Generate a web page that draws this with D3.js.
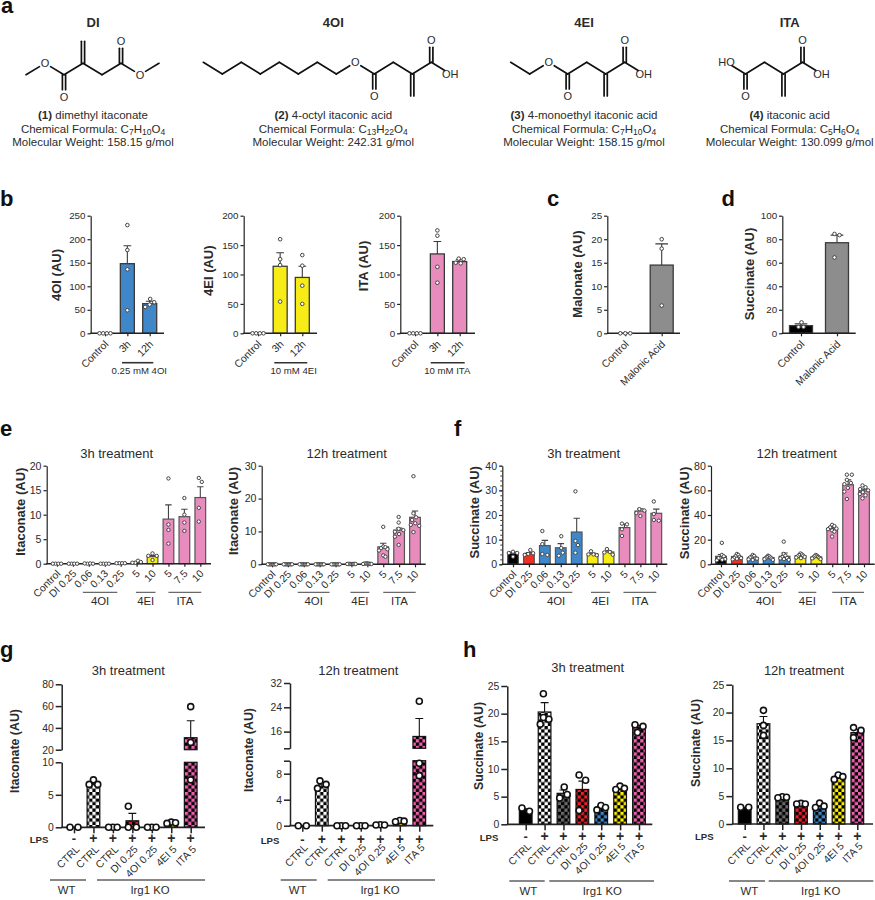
<!DOCTYPE html>
<html>
<head>
<meta charset="utf-8">
<script src="https://cdn.jsdelivr.net/npm/d3@7"></script>
<style>
  html, body { margin: 0; padding: 0; background: #fff; }
  text { font-family: "Liberation Sans", Arial, sans-serif; fill: #2b2b2b; }
</style>
</head>
<body>
<div id="fig"></div>
<script>
// ---- panel a: compounds (backbone atoms, "" is a plain carbon)
const diAtoms = ["", "O", "", "", "", "", "O", ""];
const diDouble = [[2, "O"], [3, ""], [5, "O"]];
const oiAtoms = ["", "", "", "", "", "", "", "", "O", "", "", "", "", "OH"];
const oiDouble = [[9, "O"], [11, ""], [12, "O"]];
const eiAtoms = ["", "", "O", "", "", "", "", "OH"];
const eiDouble = [[3, "O"], [5, ""], [6, "O"]];
const itaAtoms = ["HO", "", "", "", "", "OH"];
const itaDouble = [[1, "O"], [3, ""], [4, "O"]];

// ---- panel b, c, d
const bCats = ["Control", "3h", "12h"];
const b4oiMeans = [0, 148, 63];
const b4oiTops = [0, 186, 68];
const b4oiDots = [[0, 0, 0, 0], [230, 177, 136, 49], [73, 66, 61, 56]];
const b4eiMeans = [0, 114, 95];
const b4eiTops = [0, 137, 114];
const b4eiDots = [[0, 0, 0, 0], [160, 126, 116, 54], [133, 115, 81, 50]];
const bItaMeans = [0, 135, 122];
const bItaTops = [0, 156, 125];
const bItaDots = [[0, 0, 0, 0], [175, 166, 113, 86], [127, 126, 120, 119]];

const cdCats = ["Control", "Malonic Acid"];
const cMeans = [0, 14.5];
const cTops = [0, 19];
const cDots = [[0, 0, 0], [20, 18, 5.9]];
const dMeans = [6.5, 77];
const dTops = [8, 83.5];
const dDots = [[9.3, 5.4, 5.4], [84.5, 83.5, 64.5]];

// ---- panel e, f
const efCats = ["Control", "DI 0.25", "0.06", "0.13", "0.25", "5", "10", "5", "7.5", "10"];
const efKinds = ["ctrl", "di", "oi", "oi", "oi", "ei", "ei", "ita", "ita", "ita"];
const efGroups = ["4OI", "4EI", "ITA"];
const efGroupFrom = [2, 5, 7];
const efGroupTo = [4, 6, 9];

const e3Means = [0, 0, 0, 0, 0.1, 0.35, 1.45, 9.1, 9.6, 13.5];
const e3Tops = [0, 0, 0, 0, 0.1, 0.45, 1.7, 12, 11.1, 15.7];
const e3Dots = [[0, 0, 0, 0], [0, 0, 0, 0], [0, 0.05, 0.05, 0], [0, 0, 0, 0], [0.1, 0.1, 0.1, 0.1],
  [0.6, 0.35, 0.2, 0.2], [2.1, 1.6, 1.6, 0.75], [17.4, 8, 6.9, 4.1], [13.4, 10, 8.4, 6.7], [17.5, 16.7, 11.4, 8.6]];

const e12Means = [0, 0, 0, 0, 0, 0.1, 0.2, 5.3, 10.4, 14.3];
const e12Tops = [0, 0, 0, 0, 0, 0.1, 0.3, 6.4, 11, 16.2];
const e12Dots = [[0, 0, 0, 0, 0, 0, 0, 0], [0, 0, 0, 0, 0, 0, 0, 0], [0, 0, 0, 0, 0, 0, 0, 0], [0, 0, 0, 0, 0, 0, 0, 0], [0, 0, 0, 0, 0, 0, 0, 0],
  [0.1, 0.1, 0.1, 0.1, 0.1, 0.1, 0.1, 0.1], [0.3, 0.2, 0.2, 0.2, 0.2, 0.1, 0.1, 0.1],
  [11.4, 5.4, 5.2, 4.9, 4.6, 4.2, 2.7, 2.3], [14.4, 12.7, 10.8, 10.4, 9.9, 9.2, 8.4, 5.9], [26.8, 15.5, 14.3, 13.5, 12.5, 12, 11.7, 9.8]];

const f3Means = [4.5, 4.3, 7.6, 6.7, 13.1, 4.2, 5, 14.9, 21.6, 20.7];
const f3Tops = [5, 4.8, 9.7, 8.4, 18.7, 4.6, 5.5, 16.3, 22.5, 22.4];
const f3Dots = [[5.1, 4.6, 4.6, 3.1], [5.8, 4.5, 4.2, 3.8], [13.5, 8.2, 4.2, 3.8], [11.4, 6.6, 4.7, 3.5], [29.6, 9.5, 7.8, 4.7],
  [5.3, 4, 4, 3.7], [6.2, 5, 4.8, 3.9], [16.5, 16.2, 14.2, 11.5], [22.4, 21.8, 20.8, 19.6], [25.5, 20.4, 18, 17.7]];

const f12Means = [6.5, 6.3, 5.5, 5.5, 6.5, 7, 6, 29, 64.5, 59.5];
const f12Tops = [8, 7.3, 6.3, 6.3, 9.2, 7.8, 6.8, 30.5, 68.5, 61];
const f12Dots = [[17.4, 7.6, 6.5, 5, 5, 4.2, 3.7, 3.2], [8.4, 7.6, 6.5, 6, 5.2, 5, 4.5, 4], [7.6, 6.8, 6, 5.5, 5, 4.6, 4, 3.5], [7, 6.5, 6, 5.5, 5, 4.6, 4.2, 3.6], [18.4, 8.4, 7, 6, 5.2, 4.8, 4.2, 3.6],
  [8.8, 8, 7.5, 7, 6.5, 6, 5.5, 5], [7.6, 7, 6.5, 6, 5.5, 5.2, 4.8, 4.2],
  [32, 31, 30, 29, 28.5, 27.5, 26.5, 22.5], [72.7, 72.7, 68.5, 66, 65, 62, 59, 53], [64, 62.5, 61, 60, 58.5, 57, 56, 53.5]];

// ---- panel g, h
const ghCats = ["CTRL", "CTRL", "CTRL", "DI 0.25", "4OI 0.25", "4EI 5", "ITA 5"];
const ghLps = ["-", "+", "+", "+", "+", "+", "+"];
const ghKinds = ["plain", "wt", "koctrl", "di", "oi", "ei", "ita"];

const g3Means = [0, 6.6, 0, 1, 0, 0.65, 31];
const g3Tops = [0, 6.8, 0, 2.15, 0, 0.75, 46.6];
const g3Dots = [[0, 0], [7.3, 6.6, 6.6], [0, 0, 0], [3.25, 0, 0], [0, 0, 0], [0.8, 0.7, 0.6], [59.5, 26.7, 7.3]];
const g12Means = [0, 6, 0, 0, 0.1, 0.7, 14.4];
const g12Tops = [0, 6.3, 0, 0, 0.15, 0.8, 20.3];
const g12Dots = [[0, 0], [6.9, 6.36, 5.75], [0, 0, 0], [0, 0, 0], [0.15, 0.1, 0.1], [0.8, 0.7, 0.6], [26, 9.6, 7.7]];
const h3Means = [2.6, 20.3, 5.6, 6.3, 2.9, 6.3, 17.5];
const h3Tops = [2.8, 22, 6.2, 7.8, 3.4, 6.6, 17.9];
const h3Dots = [[2.95, 2.35], [23.6, 19.3, 19, 18.1], [6.75, 5.4, 4.75], [8.9, 7.95, 2.5], [3.4, 3.05, 2.6], [6.9, 6.5, 6.3], [18, 17.7, 16.6]];
const h12Means = [2.9, 18, 4.7, 3.6, 3.2, 8.2, 16.4];
const h12Tops = [3, 19.3, 4.9, 3.7, 3.6, 8.6, 17];
const h12Dots = [[3, 3], [20.4, 17.7, 15.9], [4.9, 4.8, 4.7], [3.7, 3.6, 3.6], [3.75, 3.2, 2.95], [8.8, 8.5, 8], [17.3, 16.8, 15.5]];

const solid = { ctrl: "#000", di: "#ee3124", oi: "#3f87c9", ei: "#f8ec16", ita: "#e88bbd", gray: "#8d8d8d", plain: "#000" };
const checks = { wt: "#fff", koctrl: "#6a6a6a", di: "#f0202a", oi: "#3f87c9", ei: "#fff200", ita: "#ee5fae" };

const svg = d3.select("#fig").append("svg").attr("width", 875).attr("height", 900);
const defs = svg.append("defs");

// checker fills for g and h
Object.keys(checks).forEach(k => {
  const cell = 3.3;
  const pat = defs.append("pattern").attr("id", "chk-" + k)
    .attr("patternUnits", "userSpaceOnUse").attr("width", cell * 2).attr("height", cell * 2);
  pat.append("rect").attr("width", cell * 2).attr("height", cell * 2).attr("fill", "#000");
  pat.append("rect").attr("width", cell).attr("height", cell).attr("fill", checks[k]);
  pat.append("rect").attr("x", cell).attr("y", cell).attr("width", cell).attr("height", cell).attr("fill", checks[k]);
});

function label(x, y, str, size, opts) {
  opts = opts || {};
  return svg.append("text").attr("x", x).attr("y", y).attr("font-size", size)
    .attr("text-anchor", opts.anchor || "middle")
    .attr("font-weight", opts.bold ? "bold" : "normal")
    .style("fill", opts.fill || null)
    .text(str);
}

function rotLabel(x, y, str, size) {
  svg.append("text").attr("font-size", size).attr("font-weight", "bold")
    .attr("text-anchor", "middle").attr("dy", ".35em")
    .attr("transform", "translate(" + x + "," + y + ")rotate(-90)").text(str);
}

// ---- molecule drawing
function molecule(atoms, doubles, x0, yHi, yLo, startHigh) {
  const step = 19;
  const g = svg.append("g");
  const pts = atoms.map((a, i) => {
    const high = (i % 2 === 0) === startHigh;
    return { x: x0 + i * step, y: high ? yHi : yLo, high: high, a: a };
  });
  const bond = (x1, y1, x2, y2) => g.append("line").attr("x1", x1).attr("y1", y1).attr("x2", x2).attr("y2", y2)
    .attr("stroke", "#111").attr("stroke-width", 1.7).attr("stroke-linecap", "round");
  d3.pairs(pts).forEach(([p, q]) => {
    const dx = q.x - p.x, dy = q.y - p.y, len = Math.hypot(dx, dy);
    const s = p.a ? 6.5 / len : 0, e = q.a ? 6.5 / len : 0;
    bond(p.x + dx * s, p.y + dy * s, q.x - dx * e, q.y - dy * e);
  });
  pts.filter(p => p.a).forEach(p => label(p.x, p.y + 4, p.a, 11));
  doubles.forEach(([i, a]) => {
    const p = pts[i], dir = p.high ? -1 : 1;
    const len = a ? 15 : 22;
    [-1.6, 1.6].forEach(off => bond(p.x + off, p.y, p.x + off, p.y + dir * len));
    if (a) label(p.x, p.y + dir * 22 + 4, a, 11);
  });
}

function caption(cx, title, num, name, formula, weight) {
  label(cx, 27, title, 13, { bold: true });
  const size = 11.5;
  const t1 = svg.append("text").attr("x", cx).attr("y", 119).attr("font-size", size).attr("text-anchor", "middle");
  t1.append("tspan").attr("font-weight", "bold").text("(" + num + ")");
  t1.append("tspan").text(" " + name);
  const t2 = svg.append("text").attr("x", cx).attr("y", 132.5).attr("font-size", size).attr("text-anchor", "middle");
  t2.append("tspan").text("Chemical Formula: ");
  formula.forEach(([el, n], i) => {
    t2.append("tspan").attr("dy", i ? -2 : 0).text(el);
    t2.append("tspan").attr("font-size", 8.5).attr("dy", 2).text(n);
  });
  label(cx, 146, "Molecular Weight: " + weight + " g/mol", size);
}

molecule(diAtoms, diDouble, 26, 63.3, 74.7, false);
molecule(oiAtoms, oiDouble, 203.3, 62.3, 74, true);
molecule(eiAtoms, eiDouble, 510.7, 62.3, 74, true);
molecule(itaAtoms, itaDouble, 726.5, 62.3, 74, true);
caption(93, "DI", 1, "dimethyl itaconate", [["C", "7"], ["H", "10"], ["O", "4"]], "158.15");
caption(333.3, "4OI", 2, "4-octyl itaconic acid", [["C", "13"], ["H", "22"], ["O", "4"]], "242.31");
caption(584, "4EI", 3, "4-monoethyl itaconic acid", [["C", "7"], ["H", "10"], ["O", "4"]], "158.15");
caption(789.7, "ITA", 4, "itaconic acid", [["C", "5"], ["H", "6"], ["O", "4"]], "130.099");

// spread the replicate dots sideways so they do not sit on each other
function swarm(vals, yf, dmin, maxHalf) {
  const placed = [];
  vals.forEach(v => {
    const py = yf(v);
    let best = 0;
    for (let k = 0; k < 80; k++) {
      const off = (k % 2 ? 1 : -1) * Math.ceil(k / 2) * 0.5;
      if (placed.every(p => Math.hypot(p.off - off, p.y - py) >= dmin)) { best = off; break; }
    }
    placed.push({ off: best, y: py, v: v });
  });
  const ext = d3.extent(placed, p => p.off);
  const mid = (ext[0] + ext[1]) / 2;
  const half = (ext[1] - ext[0]) / 2;
  const k = half > maxHalf ? maxHalf / half : 1;
  placed.forEach(p => { p.off = (p.off - mid) * k; });
  return placed;
}

const styleSmall = { tick: 3.2, xTick: 3, dotR: 1.8, dotW: 1, dotStroke: "#444", barStroke: "#3a3a3a", barW: 1.3, axisW: 1.2, tickFont: 9.8, xFont: 10.4, cap: 0.55, labelDx: 1, labelDy: 9, maxHalf: 5.5 };
const styleMid = { tick: 3.2, xTick: 3, dotR: 1.7, dotW: 1, dotStroke: "#444", barStroke: "#555", barW: 1.2, axisW: 1.2, tickFont: 10.6, xFont: 10.4, cap: 0.6, labelDx: 1, labelDy: 8, maxHalf: 4.2 };
const styleBig = { tick: 6, xTick: 6, dotR: 3, dotW: 1.6, dotStroke: "#111", barStroke: "#111", barW: 1.2, axisW: 1.5, tickFont: 10.4, xFont: 10.4, cap: 0.62, labelDx: 3, labelDy: 0, maxHalf: 4.3 };

function barPanel(p) {
  const st = p.style;
  const x = d3.scalePoint().domain(d3.range(p.cats.length)).range([p.first, p.last]);
  const g = svg.append("g");

  // y positions, a single scale or a lower and upper part with a break
  const lower = d3.scaleLinear().domain([0, p.yMax]).range([p.bottom, p.top]);
  const upper = p.brk ? d3.scaleLinear().domain(p.brk.domain).range([p.brk.bottom, p.brk.top]) : null;
  const yf = v => (upper && v > p.yMax) ? upper(Math.max(v, p.brk.domain[0])) : lower(v);

  p.means.forEach((m, i) => {
    const f = p.fills[i];
    const parts = [];
    if (upper && m > p.yMax) {
      parts.push([lower(p.yMax), p.bottom]);
      parts.push([upper(m), p.brk.bottom]);
    } else {
      parts.push([lower(m), p.bottom]);
    }
    parts.forEach(([t, b]) => {
      g.append("rect")
        .attr("x", x(i) - p.barW / 2).attr("y", t)
        .attr("width", p.barW).attr("height", Math.max(0, b - t))
        .attr("fill", f).attr("stroke", st.barStroke).attr("stroke-width", st.barW);
    });
    if (p.tops[i] > m) {
      const capHalf = p.barW * st.cap / 2;
      const top = yf(p.tops[i]);
      g.append("path")
        .attr("d", "M" + x(i) + "," + yf(m) + "V" + top + "M" + (x(i) - capHalf) + "," + top + "H" + (x(i) + capHalf))
        .attr("fill", "none").attr("stroke", st.barStroke === "#555" ? "#444" : st.barStroke).attr("stroke-width", 1.1);
    }
  });

  // axes
  const yAxis = d3.axisLeft(lower).tickValues(p.ticks).tickSize(st.tick).tickPadding(2).tickSizeOuter(0)
    .tickFormat(d => (p.noLabel && p.noLabel.includes(d)) ? "" : d);
  const ya = g.append("g").attr("transform", "translate(" + p.left + ",0)").call(yAxis);
  const axes = [ya];
  if (upper) {
    const ub = d3.axisLeft(upper).tickValues(p.brk.ticks).tickSize(st.tick).tickPadding(2).tickSizeOuter(0)
      .tickFormat(d => d === p.brk.domain[0] && !p.brk.labelBottom ? "" : d);
    axes.push(g.append("g").attr("transform", "translate(" + p.left + ",0)").call(ub));
  }
  if (p.minor) {
    g.append("g").attr("transform", "translate(" + p.left + ",0)")
      .call(d3.axisLeft(lower).tickValues(p.minor).tickSize(2).tickFormat("").tickSizeOuter(0))
      .call(s => { s.select(".domain").remove(); s.selectAll("line").attr("stroke", "#333"); });
  }
  axes.forEach(a => {
    a.selectAll("line").attr("stroke", "#222").attr("stroke-width", st.axisW);
    a.select(".domain").attr("stroke", "#222").attr("stroke-width", st.axisW);
    a.selectAll("text").attr("font-size", st.tickFont).attr("font-family", null);
    a.selectAll("text").filter(function () { return !this.textContent; }).remove();
  });

  const xa = g.append("g").attr("transform", "translate(0," + p.bottom + ")")
    .call(d3.axisBottom(x).tickSize(st.xTick).tickFormat(i => p.cats[i]));
  xa.select(".domain").remove();
  xa.selectAll("line").attr("stroke", "#222").attr("stroke-width", st.axisW);
  xa.selectAll("text")
    .attr("font-size", st.xFont).attr("font-family", null)
    .attr("text-anchor", "end").attr("dy", ".35em").attr("x", 0).attr("y", 0)
    .attr("transform", "translate(" + st.labelDx + "," + (p.xLabelDrop || st.labelDy + st.xTick - 3) + ")rotate(-45)");
  g.append("line").attr("x1", p.left - 0.5).attr("x2", p.right)
    .attr("y1", p.bottom).attr("y2", p.bottom)
    .attr("stroke", "#222").attr("stroke-width", st.axisW + 0.2);

  // replicate dots go on top of the axis
  p.dots.forEach((vals, i) => {
    swarm(vals, yf, st.dotR * 2 + st.dotW + 0.4, st.maxHalf).forEach(d => {
      g.append("circle")
        .attr("cx", x(i) + d.off).attr("cy", d.y).attr("r", st.dotR)
        .attr("fill", "#fff").attr("stroke", st.dotStroke).attr("stroke-width", st.dotW);
    });
  });

  if (p.ylabel) rotLabel(p.ylabel[1], p.ylabel[2], p.ylabel[0], p.ylabelSize || 13);
  if (p.title) label(p.title[1], p.title[2], p.title[0], 13);
  return x;
}

// letters
[["a", 1, 12.5], ["b", 0, 206], ["c", 547, 206], ["d", 721.5, 206], ["e", 0, 436], ["f", 454, 436], ["g", 0, 657], ["h", 463, 657]]
  .forEach(([s, x, y]) => label(x, y, s, 22, { bold: true, anchor: "start", fill: "#111" }));

// ---- b
function panelB(cats, means, tops, dots, fill, left, right, first, last, yMax, ticks, name, lx, ly, under, ux1, ux2, ucx) {
  barPanel({ cats: cats, means: means, tops: tops, dots: dots, fills: cats.map(() => fill), left: left, right: right, first: first, last: last,
    bottom: 333.3, top: 215.7, yMax: yMax, ticks: ticks, barW: 14, style: styleSmall, ylabel: [name, lx, ly] });
  svg.append("line").attr("x1", ux1).attr("x2", ux2).attr("y1", 362.7).attr("y2", 362.7).attr("stroke", "#333").attr("stroke-width", 1.6);
  label(ucx, 374, under, 9.6);
}
panelB(bCats, b4oiMeans, b4oiTops, b4oiDots, solid.oi, 90.7, 164, 105, 149.7, 250, [0, 50, 100, 150, 200, 250], "4OI (AU)", 56.7, 275, "0.25 mM 4OI", 122, 153.3, 139.3);
panelB(bCats, b4eiMeans, b4eiTops, b4eiDots, solid.ei, 243.7, 317, 258, 302.3, 200, [0, 50, 100, 150, 200], "4EI (AU)", 208.3, 270.7, "10 mM 4EI", 274.3, 307.3, 293.7);
panelB(bCats, bItaMeans, bItaTops, bItaDots, solid.ita, 400.3, 475, 415, 459.7, 200, [0, 50, 100, 150, 200], "ITA (AU)", 363.3, 266, "10 mM ITA", 430.7, 464.7, 447.3);

// ---- c, d
barPanel({ cats: cdCats, means: cMeans, tops: cTops, dots: cDots, fills: [solid.ctrl, solid.gray], left: 607.3, right: 680, first: 625.3, last: 661.7,
  bottom: 333.3, top: 215.7, yMax: 25, ticks: [0, 5, 10, 15, 20, 25], barW: 23, style: styleSmall, ylabel: ["Malonate (AU)", 577.7, 274] });
barPanel({ cats: cdCats, means: dMeans, tops: dTops, dots: dDots, fills: [solid.ctrl, solid.gray], left: 782.3, right: 855.7, first: 801, last: 837,
  bottom: 333.3, top: 215.7, yMax: 100, ticks: [0, 20, 40, 60, 80, 100], barW: 23, style: styleSmall, ylabel: ["Succinate (AU)", 749.3, 274] });

// ---- e, f
function panelEF(means, tops, dots, left, right, first, last, bottom, yMax, ticks, minor, name, lx, ly, title, tx, pads) {
  const x = barPanel({ cats: efCats, means: means, tops: tops, dots: dots, fills: efKinds.map(k => solid[k]), left: left, right: right, first: first, last: last,
    bottom: bottom, top: 465.7, yMax: yMax, ticks: ticks, minor: minor, barW: 10.7, style: styleMid, ylabel: [name, lx, ly], title: [title, tx, 458] });
  efGroups.forEach((g, i) => {
    const x1 = x(efGroupFrom[i]) + pads[i][0], x2 = x(efGroupTo[i]) + pads[i][1];
    svg.append("line").attr("x1", x1).attr("x2", x2).attr("y1", 592.3).attr("y2", 592.3).attr("stroke", "#444").attr("stroke-width", 1);
    label((x1 + x2) / 2, 604.5, g, 11.4);
  });
}
panelEF(e3Means, e3Tops, e3Dots, 46.7, 211, 57, 200.3, 563.7, 20, [0, 5, 10, 15, 20], null, "Itaconate (AU)", 20, 511.7, "3h treatment", 116.7, [[-6, -3.4], [-0.7, 3], [0, 1]]);
panelEF(e12Means, e12Tops, e12Dots, 261.7, 425.7, 272, 415, 564.3, 30, [0, 10, 20, 30], null, "Itaconate (AU)", 233.3, 511, "12h treatment", 346.7, [[-6, -6], [-1, 2], [0, 0.7]]);
panelEF(f3Means, f3Tops, f3Dots, 502.3, 667.3, 513, 656.3, 564.3, 40, [0, 10, 20, 30, 40], d3.range(0, 41, 2), "Succinate (AU)", 474.3, 512.3, "3h treatment", 583.7, [[-5, -4.4], [-1.6, 1.5], [-1, 0]]);
panelEF(f12Means, f12Tops, f12Dots, 711, 874.7, 721, 864, 564.3, 80, [0, 20, 40, 60, 80], null, "Succinate (AU)", 684, 513, "12h treatment", 796.7, [[-4, -3], [-2, 0], [0, 0]]);

// ---- g, h
function panelGH(p) {
  const fills = ghKinds.map(k => checks[k] ? "url(#chk-" + k + ")" : solid[k]);
  const x = barPanel(Object.assign({ cats: ghCats, fills: fills, barW: 12.7, style: styleBig, ylabelSize: 12.4, xLabelDrop: 20 }, p));
  ghLps.forEach((s, i) => {
    label(x(i), p.lpsY + 4, s, s === "+" ? 14 : 13, { bold: true });
  });
  label(p.lpsX, p.lpsY + 3.5, "LPS", 9.6, { bold: true });
  p.lines.forEach(([name, x1, x2, cx]) => {
    svg.append("line").attr("x1", x1).attr("x2", x2).attr("y1", p.lineY).attr("y2", p.lineY).attr("stroke", "#111").attr("stroke-width", 1.2);
    label(cx, p.lineY + 14, name, 11.4);
  });
}
panelGH({ means: g3Means, tops: g3Tops, dots: g3Dots, left: 61.7, right: 205, first: 74, last: 190.7, bottom: 827.3, top: 762.3, yMax: 10, ticks: [0, 5, 10],
  brk: { domain: [20, 80], bottom: 749.7, top: 684.3, ticks: [20, 40, 60, 80], labelBottom: true },
  ylabel: ["Itaconate (AU)", 14.3, 751], title: ["3h treatment", 128.3, 675], lpsX: 39, lpsY: 839, lineY: 880,
  lines: [["WT", 50, 86, 66.7], ["Irg1 KO", 97, 205, 150]] });
panelGH({ means: g12Means, tops: g12Tops, dots: g12Dots, left: 290, right: 433.3, first: 302.3, last: 419.3, bottom: 825.7, top: 760.7, yMax: 10, ticks: [0, 4, 8, 10], noLabel: [10],
  brk: { domain: [10.5, 32], bottom: 748.3, top: 683, ticks: [10.5, 16, 24, 32] },
  ylabel: ["Itaconate (AU)", 248.3, 750], title: ["12h treatment", 358.3, 675], lpsX: 270, lpsY: 840, lineY: 880,
  lines: [["WT", 280.7, 316.7, 297.7], ["Irg1 KO", 327.7, 435, 380]] });
panelGH({ means: h3Means, tops: h3Tops, dots: h3Dots, left: 507.3, right: 652.3, first: 525.7, last: 639, bottom: 824.3, top: 686, yMax: 25, ticks: [0, 5, 10, 15, 20, 25],
  ylabel: ["Succinate (AU)", 478.3, 746], title: ["3h treatment", 587.7, 671.5], lpsX: 489, lpsY: 837, lineY: 881,
  lines: [["WT", 509.3, 544.7, 528.3], ["Irg1 KO", 549.3, 654, 602.3]] });
panelGH({ means: h12Means, tops: h12Tops, dots: h12Dots, left: 732.3, right: 873, first: 744.7, last: 857.3, bottom: 824, top: 684.7, yMax: 25, ticks: [0, 5, 10, 15, 20, 25],
  ylabel: ["Succinate (AU)", 695.7, 743], title: ["12h treatment", 804, 675], lpsX: 704.3, lpsY: 836.7, lineY: 881,
  lines: [["WT", 729, 765, 749.3], ["Irg1 KO", 768.7, 873.3, 820.7]] });
</script>
</body>
</html>
